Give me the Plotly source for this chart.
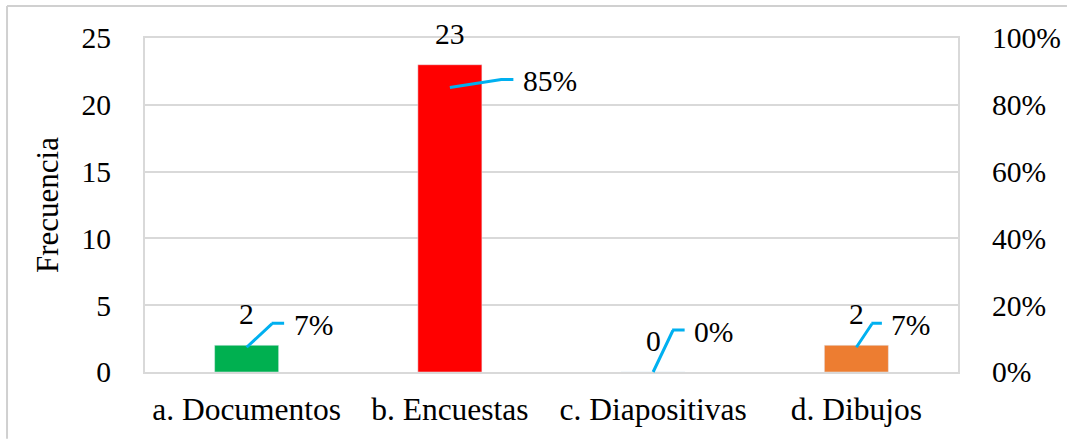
import plotly.graph_objects as go

# ---- data ----
categories = ["a. Documentos", "b. Encuestas", "c. Diapositivas", "d. Dibujos"]
frecuencia = [2, 23, 0, 2]
total = sum(frecuencia)
porcentaje = [v / total for v in frecuencia]
pct_labels = ["7%", "85%", "0%", "7%"]

# ---- styles ----
bar_colors = ["#00B050", "#FF0000", "#A5A5A5", "#ED7D31"]
leader_color = "#00B0F0"
grid_color = "#D9D9D9"
FONT = "Liberation Serif"
FS = 29.6
FS_X = 31.5
FS_T = 31
# leader-line geometry (pixels): diagonal dx, dy (up positive), horizontal length
leader_geom = [(26, 24, 12), (52, 8, 12), (20, 42, 12), (16, 24, 10)]

fig = go.Figure()
fig.add_trace(go.Bar(
    x=categories, y=frecuencia, marker_color=bar_colors,
    showlegend=False, hoverinfo="skip", yaxis="y",
))
fig.add_trace(go.Scatter(
    x=categories, y=porcentaje, mode="markers", marker=dict(size=1, opacity=0),
    showlegend=False, hoverinfo="skip", yaxis="y2",
))

annotations = []
for cat, v in zip(categories, frecuencia):
    annotations.append(dict(
        x=cat, y=v, xref="x", yref="y", text=str(v), showarrow=False,
        yanchor="bottom", yshift=13, font=dict(family=FONT, size=FS, color="#000"),
    ))
for cat, p, lab, (dx, dy, hl) in zip(categories, porcentaje, pct_labels, leader_geom):
    annotations.append(dict(
        x=cat, y=p, xref="x", yref="y2", text="", showarrow=True, arrowhead=0,
        ax=dx, ay=-dy, arrowwidth=3, arrowcolor=leader_color, standoff=0, startstandoff=0,
        borderpad=0, font=dict(size=1),
    ))
    annotations.append(dict(
        x=cat, y=p, xref="x", yref="y2", text="", showarrow=True, arrowhead=0,
        xshift=dx - 1, yshift=dy, ax=hl + 1, ay=0, arrowwidth=3, arrowcolor=leader_color,
        standoff=0, startstandoff=0, borderpad=0, font=dict(size=1),
    ))
    annotations.append(dict(
        x=cat, y=p, xref="x", yref="y2", text=lab, showarrow=False,
        xanchor="left", yanchor="middle", xshift=dx + hl + 7, yshift=dy - 2,
        font=dict(family=FONT, size=FS, color="#000"),
    ))

fig.update_layout(
    width=1068, height=439,
    margin=dict(l=145, r=110, t=38, b=67),
    paper_bgcolor="white", plot_bgcolor="white",
    font=dict(family=FONT, size=FS, color="#000"),
    bargap=0.685,
    annotations=annotations,
    xaxis=dict(
        showgrid=False, showline=True, linecolor=grid_color, linewidth=2,
        mirror=True, ticks="", ticklabelstandoff=8, automargin=False,
        tickfont=dict(family=FONT, size=FS_X),
    ),
    yaxis=dict(
        range=[0, 25], dtick=5, showgrid=True, gridcolor=grid_color, gridwidth=1.5,
        showline=True, linecolor=grid_color, linewidth=2, zeroline=False,
        ticks="", ticklabelstandoff=26, tickfont=dict(family=FONT, size=FS),
        automargin=False,
        title=dict(text="Frecuencia", font=dict(family=FONT, size=FS_T), standoff=14),
    ),
    yaxis2=dict(
        range=[0, 1], dtick=0.2, tickformat=".0%", overlaying="y", side="right",
        showgrid=False, showline=True, linecolor=grid_color, linewidth=2,
        zeroline=False, ticks="", ticklabelstandoff=26, automargin=False,
        tickfont=dict(family=FONT, size=FS),
    ),
    shapes=[
        dict(type="line", xref="paper", yref="paper", x0=-0.1697, x1=1.134, y0=1.0958, y1=1.0958,
             line=dict(color="#D0D0D0", width=2)),
        dict(type="line", xref="paper", yref="paper", x0=-0.1697, x1=-0.1697, y0=1.0958, y1=-0.2,
             line=dict(color="#D0D0D0", width=2)),
    ],
)

fig.write_html(
    "out.html",
    config={"displayModeBar": False},
    post_script="document.body.style.margin='0';document.body.style.overflow='hidden';",
)
